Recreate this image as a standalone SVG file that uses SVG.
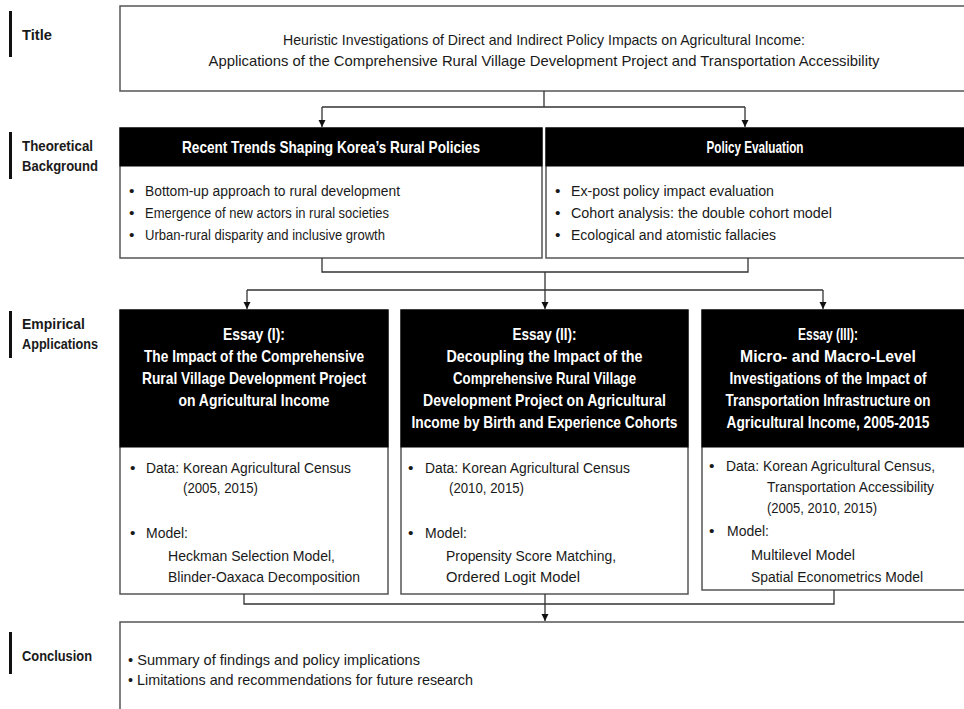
<svg xmlns="http://www.w3.org/2000/svg" width="964" height="709" viewBox="0 0 964 709">
<defs>
<marker id="arr" markerUnits="userSpaceOnUse" markerWidth="8" markerHeight="8" refX="7" refY="4" orient="auto">
<path d="M0,0.5 L7,4 L0,7.5 Z" fill="#111"/>
</marker>
<style>
text{font-family:"Liberation Sans",Arial,sans-serif;fill:#1a1a1a}
.lbl{font-size:15.5px;font-weight:bold}
.bar{fill:#111}
.box{fill:#fff;stroke:#555;stroke-width:1.5}
.hdr{fill:#000;stroke:#000;stroke-width:1}
.ht{font-size:16.5px;font-weight:bold;fill:#fff;text-anchor:middle}
.tt{font-size:15px;text-anchor:middle}
.bt{font-size:15.5px}
.ct{font-size:14.5px}
.con{fill:none;stroke:#333;stroke-width:1.3}
</style>
</defs>
<rect width="964" height="709" fill="#fff"/>

<g id="labels">
<rect class="bar" x="9" y="11" width="3" height="46"/>
<text class="lbl" x="22" y="40" textLength="30" lengthAdjust="spacingAndGlyphs">Title</text>
<rect class="bar" x="9" y="132" width="3" height="47"/>
<text class="lbl" x="22" y="151" textLength="71" lengthAdjust="spacingAndGlyphs">Theoretical</text>
<text class="lbl" x="22" y="171" textLength="76" lengthAdjust="spacingAndGlyphs">Background</text>
<rect class="bar" x="9" y="311" width="3" height="47"/>
<text class="lbl" x="22" y="329" textLength="63" lengthAdjust="spacingAndGlyphs">Empirical</text>
<text class="lbl" x="22" y="349" textLength="76" lengthAdjust="spacingAndGlyphs">Applications</text>
<rect class="bar" x="9" y="632" width="3" height="42"/>
<text class="lbl" x="22" y="661" textLength="70" lengthAdjust="spacingAndGlyphs">Conclusion</text>
</g>

<g id="title">
<rect class="box" x="120" y="6" width="860" height="85"/>
<text class="tt" x="544" y="45" textLength="522" lengthAdjust="spacingAndGlyphs">Heuristic Investigations of Direct and Indirect Policy Impacts on Agricultural Income:</text>
<text class="tt" x="544" y="66" textLength="671" lengthAdjust="spacingAndGlyphs">Applications of the Comprehensive Rural Village Development Project and Transportation Accessibility</text>
</g>

<g id="trends">
<rect class="box" x="120" y="128" width="422" height="130"/>
<rect class="hdr" x="120" y="128" width="422" height="38"/>
<text class="ht" x="331" y="153" textLength="298" lengthAdjust="spacingAndGlyphs">Recent Trends Shaping Korea’s Rural Policies</text>
<text class="bt" x="129" y="196">•</text>
<text class="bt" x="145" y="196" textLength="255" lengthAdjust="spacingAndGlyphs">Bottom-up approach to rural development</text>
<text class="bt" x="129" y="218">•</text>
<text class="bt" x="145" y="218" textLength="244" lengthAdjust="spacingAndGlyphs">Emergence of new actors in rural societies</text>
<text class="bt" x="129" y="240">•</text>
<text class="bt" x="145" y="240" textLength="240" lengthAdjust="spacingAndGlyphs">Urban-rural disparity and inclusive growth</text>
</g>

<g id="evaluation">
<rect class="box" x="546" y="128" width="434" height="130"/>
<rect class="hdr" x="546" y="128" width="434" height="38"/>
<text class="ht" x="755" y="153" textLength="97" lengthAdjust="spacingAndGlyphs">Policy Evaluation</text>
<text class="bt" x="555" y="196">•</text>
<text class="bt" x="571" y="196" textLength="203" lengthAdjust="spacingAndGlyphs">Ex-post policy impact evaluation</text>
<text class="bt" x="555" y="218">•</text>
<text class="bt" x="571" y="218" textLength="261" lengthAdjust="spacingAndGlyphs">Cohort analysis: the double cohort model</text>
<text class="bt" x="555" y="240">•</text>
<text class="bt" x="571" y="240" textLength="205" lengthAdjust="spacingAndGlyphs">Ecological and atomistic fallacies</text>
</g>

<g id="essay1">
<rect class="box" x="120" y="310" width="268" height="284"/>
<rect class="hdr" x="120" y="310" width="268" height="137"/>
<text class="ht" x="254" y="340" textLength="62" lengthAdjust="spacingAndGlyphs">Essay (I):</text>
<text class="ht" x="254" y="362" textLength="220" lengthAdjust="spacingAndGlyphs">The Impact of the Comprehensive</text>
<text class="ht" x="254" y="384" textLength="224" lengthAdjust="spacingAndGlyphs">Rural Village Development Project</text>
<text class="ht" x="254" y="406" textLength="151" lengthAdjust="spacingAndGlyphs">on Agricultural Income</text>
<text class="bt" x="130" y="473">•</text>
<text class="bt" x="146" y="473" textLength="205" lengthAdjust="spacingAndGlyphs">Data: Korean Agricultural Census</text>
<text class="bt" x="183" y="493" textLength="75" lengthAdjust="spacingAndGlyphs">(2005, 2015)</text>
<text class="bt" x="130" y="538">•</text>
<text class="bt" x="146" y="538" textLength="42" lengthAdjust="spacingAndGlyphs">Model:</text>
<text class="bt" x="168" y="561" textLength="167" lengthAdjust="spacingAndGlyphs">Heckman Selection Model,</text>
<text class="bt" x="168" y="582" textLength="192" lengthAdjust="spacingAndGlyphs">Blinder-Oaxaca Decomposition</text>
</g>

<g id="essay2">
<rect class="box" x="401" y="310" width="287" height="284"/>
<rect class="hdr" x="401" y="310" width="287" height="137"/>
<text class="ht" x="544.5" y="340" textLength="64" lengthAdjust="spacingAndGlyphs">Essay (II):</text>
<text class="ht" x="544.5" y="362" textLength="196" lengthAdjust="spacingAndGlyphs">Decoupling the Impact of the</text>
<text class="ht" x="544.5" y="384" textLength="183" lengthAdjust="spacingAndGlyphs">Comprehensive Rural Village</text>
<text class="ht" x="544.5" y="406" textLength="243" lengthAdjust="spacingAndGlyphs">Development Project on Agricultural</text>
<text class="ht" x="544.5" y="428" textLength="266" lengthAdjust="spacingAndGlyphs">Income by Birth and Experience Cohorts</text>
<text class="bt" x="408" y="473">•</text>
<text class="bt" x="425" y="473" textLength="205" lengthAdjust="spacingAndGlyphs">Data: Korean Agricultural Census</text>
<text class="bt" x="449" y="493" textLength="75" lengthAdjust="spacingAndGlyphs">(2010, 2015)</text>
<text class="bt" x="408" y="538">•</text>
<text class="bt" x="425" y="538" textLength="42" lengthAdjust="spacingAndGlyphs">Model:</text>
<text class="bt" x="446" y="561" textLength="170" lengthAdjust="spacingAndGlyphs">Propensity Score Matching,</text>
<text class="bt" x="446" y="582" textLength="134" lengthAdjust="spacingAndGlyphs">Ordered Logit Model</text>
</g>

<g id="essay3">
<rect class="box" x="702" y="310" width="278" height="280"/>
<rect class="hdr" x="702" y="310" width="278" height="137"/>
<text class="ht" x="828" y="340" textLength="60" lengthAdjust="spacingAndGlyphs">Essay (III):</text>
<text class="ht" x="828" y="362" textLength="176" lengthAdjust="spacingAndGlyphs">Micro- and Macro-Level</text>
<text class="ht" x="828" y="384" textLength="197" lengthAdjust="spacingAndGlyphs">Investigations of the Impact of</text>
<text class="ht" x="828" y="406" textLength="205" lengthAdjust="spacingAndGlyphs">Transportation Infrastructure on</text>
<text class="ht" x="828" y="428" textLength="203" lengthAdjust="spacingAndGlyphs">Agricultural Income, 2005-2015</text>
<text class="bt" x="709" y="471">•</text>
<text class="bt" x="726" y="471" textLength="209" lengthAdjust="spacingAndGlyphs">Data: Korean Agricultural Census,</text>
<text class="bt" x="767" y="492" textLength="167" lengthAdjust="spacingAndGlyphs">Transportation Accessibility</text>
<text class="bt" x="767" y="513" textLength="110" lengthAdjust="spacingAndGlyphs">(2005, 2010, 2015)</text>
<text class="bt" x="709" y="536">•</text>
<text class="bt" x="727" y="536" textLength="42" lengthAdjust="spacingAndGlyphs">Model:</text>
<text class="bt" x="751" y="560" textLength="104" lengthAdjust="spacingAndGlyphs">Multilevel Model</text>
<text class="bt" x="751" y="582" textLength="172" lengthAdjust="spacingAndGlyphs">Spatial Econometrics Model</text>
</g>

<g id="conclusion">
<rect class="box" x="120" y="622" width="860" height="100"/>
<text class="ct" x="128" y="665" textLength="292" lengthAdjust="spacingAndGlyphs">• Summary of findings and policy implications</text>
<text class="ct" x="128" y="685" textLength="345" lengthAdjust="spacingAndGlyphs">• Limitations and recommendations for future research</text>
</g>

<g id="connectors">
<path class="con" d="M544,91 V107 M322,107 H745"/>
<path class="con" d="M322,107 V127" marker-end="url(#arr)"/>
<path class="con" d="M745,107 V127" marker-end="url(#arr)"/>
<path class="con" d="M322,258 V272 H748 V258 M545,272 V290 M247,290 H823"/>
<path class="con" d="M247,290 V309" marker-end="url(#arr)"/>
<path class="con" d="M545,290 V309" marker-end="url(#arr)"/>
<path class="con" d="M823,290 V309" marker-end="url(#arr)"/>
<path class="con" d="M244,594 V604 H834 V590 M545,594 V604"/>
<path class="con" d="M545,604 V621" marker-end="url(#arr)"/>
</g>
</svg>
